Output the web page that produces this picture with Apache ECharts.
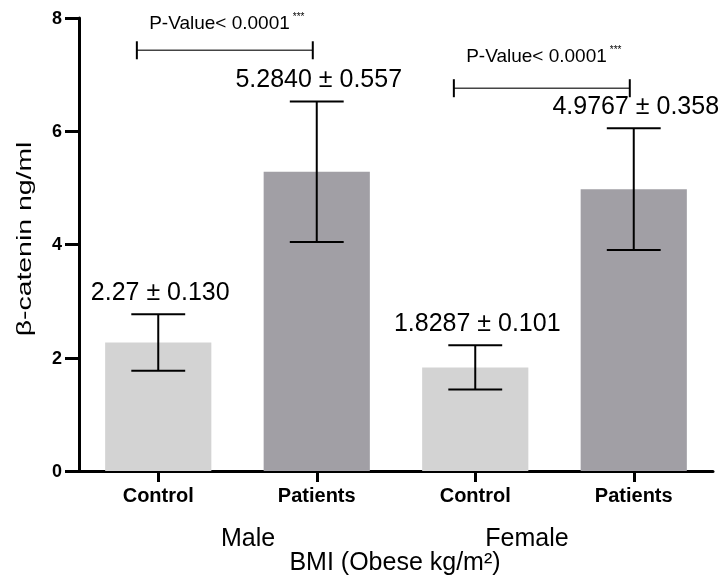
<!DOCTYPE html>
<html>
<head>
<meta charset="utf-8">
<script src="https://cdn.jsdelivr.net/npm/echarts@6/dist/echarts.min.js"></script>
<style>
  html, body { margin: 0; padding: 0; background: #ffffff; }
  #chart { width: 726px; height: 585px; }
</style>
</head>
<body>
<div id="chart"></div>
<script>
// Serum beta-catenin by BMI group, control vs patients
const categories = ['Control', 'Patients', 'Control', 'Patients'];
const groups = ['Male', 'Female'];
const means = [2.27, 5.2840, 1.8287, 4.9767];
const meanDecimals = [2, 4, 4, 4];
const seText = ['0.130', '0.557', '0.101', '0.358'];
const errorHalf = [0.50, 1.24, 0.39, 1.075];
const yTicks = [0, 2, 4, 6, 8];
const pLabels = ['P-Value< 0.0001', 'P-Value< 0.0001'];
const pStars = ['***', '***'];
const pairFrom = [0, 2];
const pairTo = [1, 3];

const FONT = '"Liberation Sans", Arial, Helvetica, sans-serif';
const barColors = ['#d3d3d3', '#a19fa5', '#d3d3d3', '#a19fa5'];

// bracket heights and label heights (in axis units)
const bracketLevel = [7.43, 6.76];
const bracketTextLevel = [7.91, 7.33];

const chart = echarts.init(document.getElementById('chart'), null, { renderer: 'canvas' });

const option = {
  animation: false,
  backgroundColor: '#ffffff',
  grid: { left: 79, right: 13, top: 18, bottom: 114, containLabel: false, outerBoundsMode: 'none' },
  xAxis: {
    type: 'category',
    data: categories,
    axisLine: { show: true, lineStyle: { color: '#000', width: 3 } },
    axisTick: { show: true, alignWithLabel: true, length: 11, lineStyle: { color: '#000', width: 3 } },
    axisLabel: { margin: 15, color: '#000', fontFamily: FONT, fontWeight: 'bold', fontSize: 20 },
    splitLine: { show: false }
  },
  yAxis: {
    type: 'value',
    min: yTicks[0],
    max: yTicks[yTicks.length - 1],
    interval: yTicks[1] - yTicks[0],
    axisLine: { show: true, lineStyle: { color: '#000', width: 3 } },
    axisTick: { show: true, inside: false, length: 14, lineStyle: { color: '#000', width: 3 } },
    axisLabel: { show: false },
    splitLine: { show: false }
  },
  series: [
    {
      type: 'bar',
      barWidth: '67%',
      data: means.map((v, i) => ({ value: v, itemStyle: { color: barColors[i] } })),
      z: 1
    },
    {
      // value-axis tick labels, placed at each tick through the axis scale
      type: 'custom',
      data: yTicks.map(t => [0, t]),
      encode: { x: 0, y: 1 },
      silent: true,
      z: 5,
      renderItem: function (params, api) {
        const y = api.coord([api.value(0), api.value(1)])[1];
        return {
          type: 'text',
          style: {
            text: String(api.value(1)),
            x: params.coordSys.x - 17,
            y: y + 1,
            align: 'right',
            verticalAlign: 'middle',
            fontFamily: FONT,
            fontWeight: 'bold',
            fontSize: 18,
            fill: '#000'
          }
        };
      }
    },
    {
      // error bars with mean ± SE text above each
      type: 'custom',
      data: means.map((m, i) => [i, m - errorHalf[i], m + errorHalf[i]]),
      encode: { x: 0, y: [1, 2] },
      z: 3,
      renderItem: function (params, api) {
        const i = params.dataIndex;
        const band = api.size([1, 0])[0];
        const lo = api.coord([api.value(0), api.value(1)]);
        const hi = api.coord([api.value(0), api.value(2)]);
        const x = lo[0];
        const half = band * 0.17;
        const ls = { stroke: '#000', lineWidth: 2 };
        return {
          type: 'group',
          children: [
            { type: 'line', shape: { x1: x, y1: lo[1], x2: x, y2: hi[1] }, style: ls },
            { type: 'line', shape: { x1: x - half, y1: hi[1], x2: x + half, y2: hi[1] }, style: ls },
            { type: 'line', shape: { x1: x - half, y1: lo[1], x2: x + half, y2: lo[1] }, style: ls },
            {
              type: 'text',
              style: {
                text: means[i].toFixed(meanDecimals[i]) + ' ± ' + seText[i],
                x: x + 2,
                y: hi[1] - 21,
                align: 'center',
                verticalAlign: 'middle',
                fontFamily: FONT,
                fontSize: 25,
                fill: '#000'
              }
            }
          ]
        };
      }
    },
    {
      // significance brackets between control and patients
      type: 'custom',
      data: pairFrom.map((f, k) => [f, pairTo[k], bracketLevel[k], bracketTextLevel[k]]),
      encode: { x: [0, 1], y: [2, 3] },
      z: 4,
      renderItem: function (params, api) {
        const k = params.dataIndex;
        const band = api.size([1, 0])[0];
        const p0 = api.coord([api.value(0), api.value(2)]);
        const p1 = api.coord([api.value(1), api.value(2)]);
        const ty = api.coord([api.value(0), api.value(3)])[1];
        const x0 = p0[0] - band * 0.135;
        const x1 = p1[0] - band * 0.025;
        const y = p0[1];
        return {
          type: 'group',
          children: [
            { type: 'line', shape: { x1: x0, y1: y, x2: x1, y2: y }, style: { stroke: '#444', lineWidth: 1.6 } },
            { type: 'line', shape: { x1: x0, y1: y - 9, x2: x0, y2: y + 9 }, style: { stroke: '#000', lineWidth: 2 } },
            { type: 'line', shape: { x1: x1, y1: y - 9, x2: x1, y2: y + 9 }, style: { stroke: '#000', lineWidth: 2 } },
            {
              type: 'text',
              style: {
                text: '{a|' + pLabels[k] + '}{b|' + pStars[k] + '}',
                x: (x0 + x1) / 2 + 2,
                y: ty + 1,
                align: 'center',
                verticalAlign: 'middle',
                rich: {
                  a: { fontFamily: FONT, fontSize: 19, fill: '#000', color: '#000' },
                  b: { fontFamily: FONT, fontSize: 10, color: '#000', fill: '#000', verticalAlign: 'top', padding: [0, 0, 14, 3] }
                }
              }
            }
          ]
        };
      }
    }
  ],
  graphic: [
    {
      type: 'text',
      x: 25, y: 239,
      rotation: Math.PI / 2,
      scaleX: 1.42,
      style: {
        text: 'β-catenin ng/ml',
        align: 'center', verticalAlign: 'middle',
        fontFamily: FONT, fontSize: 20, fill: '#000'
      }
    },
    {
      type: 'text', x: 248, y: 539,
      style: { text: groups[0], align: 'center', verticalAlign: 'middle', fontFamily: FONT, fontSize: 25, fill: '#000' }
    },
    {
      type: 'text', x: 527, y: 539,
      style: { text: groups[1], align: 'center', verticalAlign: 'middle', fontFamily: FONT, fontSize: 25, fill: '#000' }
    },
    {
      type: 'text', x: 395, y: 563,
      style: { text: 'BMI (Obese kg/m²)', align: 'center', verticalAlign: 'middle', fontFamily: FONT, fontSize: 25, fill: '#000' }
    }
  ]
};

chart.setOption(option);
</script>
</body>
</html>
